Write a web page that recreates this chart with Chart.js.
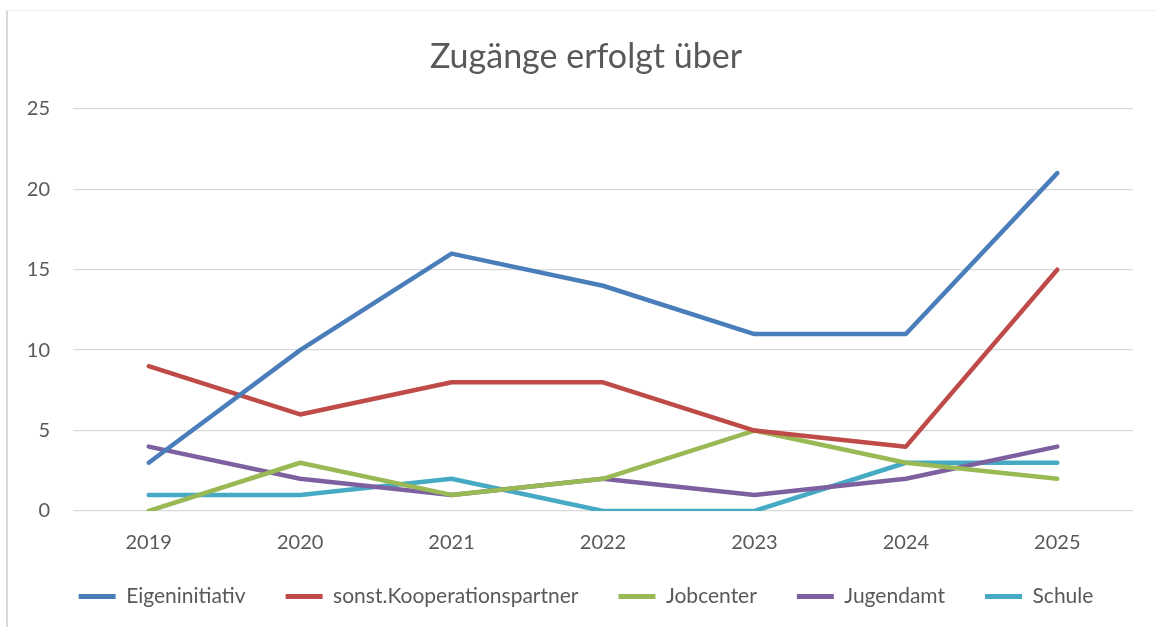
<!DOCTYPE html>
<html>
<head>
<meta charset="utf-8">
<script src="https://cdn.jsdelivr.net/npm/chart.js@4"></script>
<style>
  html, body { margin: 0; padding: 0; background: #ffffff; overflow: hidden; width: 1156px; height: 627px; }
  #frame { position: absolute; left: 6px; top: 10px; width: 1200px; height: 700px; border-left: 2px solid #d9d9d9; border-top: 1px solid #efefef; }
  #wrap { position: absolute; left: 8px; top: 11px; width: 1156px; height: 616px; }
</style>
</head>
<body>
<div id="frame"></div>
<div id="wrap"><canvas id="c"></canvas></div>
<script>
const years = ['2019', '2020', '2021', '2022', '2023', '2024', '2025'];
const eigeninitiativ = [3, 10, 16, 14, 11, 11, 21];
const kooperationspartner = [9, 6, 8, 8, 5, 4, 15];
const jobcenter = [0, 3, 1, 2, 5, 3, 2];
const jugendamt = [4, 2, 1, 2, 1, 2, 4];
const schule = [1, 1, 2, 0, 0, 3, 3];
const seriesNames = ['Eigeninitiativ', 'sonst.Kooperationspartner', 'Jobcenter', 'Jugendamt', 'Schule'];
const seriesColors = ['#4a7ebb', '#be4b48', '#98b954', '#7d60a0', '#46aac5'];
const seriesValues = [eigeninitiativ, kooperationspartner, jobcenter, jugendamt, schule];

const FONT = "Lato, 'Open Sans', sans-serif";
const TEXT = '#595959';

const datasets = seriesValues.map((vals, i) => ({
  label: seriesNames[i],
  data: vals,
  borderColor: seriesColors[i],
  backgroundColor: seriesColors[i],
  borderWidth: 4.5,
  borderCapStyle: 'round',
  borderJoinStyle: 'round',
  pointRadius: 0,
  pointHoverRadius: 0,
  tension: 0,
  fill: false,
  yAxisID: 'y'
}));

new Chart(document.getElementById('c'), {
  type: 'line',
  data: { labels: years, datasets },
  options: {
    responsive: true,
    maintainAspectRatio: false,
    animation: false,
    layout: { padding: { left: 0, right: 0, top: 0, bottom: 10 } },
    plugins: {
      title: {
        display: true,
        text: 'Zugänge erfolgt über',
        color: TEXT,
        font: { family: FONT, size: 34, weight: 'normal' },
        padding: { top: 26, bottom: 31 }
      },
      legend: {
        position: 'bottom',
        labels: {
          color: TEXT,
          font: { family: FONT, size: 21 },
          boxWidth: 37,
          boxHeight: 5,
          padding: 40,
          generateLabels: (chart) => chart.data.datasets.map((ds, i) => ({
            text: ds.label,
            fillStyle: ds.borderColor,
            strokeStyle: ds.borderColor,
            lineWidth: 0,
            hidden: false,
            datasetIndex: i,
            fontColor: TEXT
          }))
        }
      },
      tooltip: { enabled: false }
    },
    scales: {
      x: {
        offset: true,
        grid: { display: false, drawTicks: false },
        border: { display: false },
        ticks: { color: TEXT, font: { family: FONT, size: 20 }, padding: -44, mirror: true },
        afterFit: (s) => { s.height = 35; }
      },
      y: {
        position: 'left',
        min: 0,
        max: 25,
        grid: { color: '#d9d9d9', lineWidth: 1.3, drawTicks: false },
        border: { display: false },
        ticks: { stepSize: 5, color: TEXT, font: { family: FONT, size: 20 }, padding: 23 },
        afterFit: (s) => { s.width = 65; }
      },
      yRight: {
        position: 'right',
        min: 0,
        max: 25,
        grid: { display: false, drawTicks: false },
        border: { display: false },
        ticks: { display: false },
        afterFit: (s) => { s.width = 31; }
      }
    }
  }
});
</script>
</body>
</html>
